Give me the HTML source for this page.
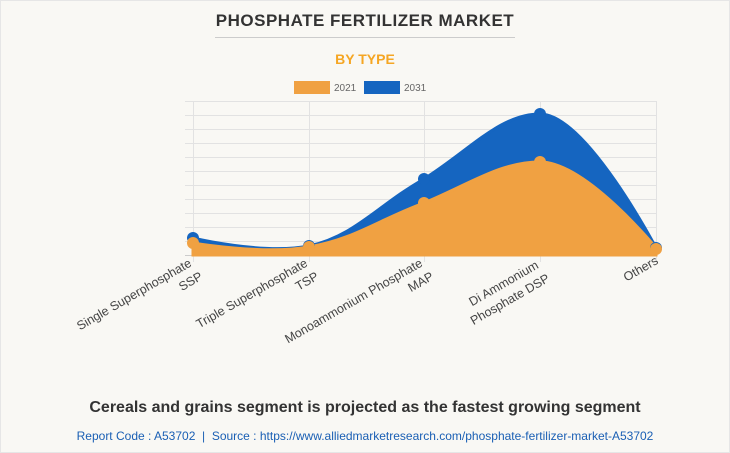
<!DOCTYPE html>
<html><head><style>
body{margin:0;width:730px;height:453px;background:#f9f8f4;font-family:"Liberation Sans",Arial,sans-serif;overflow:hidden;position:relative}
.t{position:absolute;left:0;width:730px;text-align:center}
</style></head><body>
<div style="position:absolute;left:0;top:0;width:728px;height:451px;border:1px solid #e6e6e6"></div>
<div class="t" style="top:11px;font-size:17px;font-weight:bold;color:#333;letter-spacing:0.5px">PHOSPHATE FERTILIZER MARKET</div>
<div style="position:absolute;left:215px;top:37px;width:300px;height:1px;background:#ccc"></div>
<div class="t" style="top:51px;font-size:14px;font-weight:bold;color:#f5a623">BY TYPE</div>
<svg width="730" height="453" style="position:absolute;left:0;top:0" font-family="Liberation Sans, Arial, sans-serif">
<rect x="294" y="81" width="36" height="13" fill="#f0a142"/>
<text x="334" y="91" font-size="10" fill="#666">2021</text>
<rect x="364" y="81" width="36" height="13" fill="#1565c0"/>
<text x="404" y="91" font-size="10" fill="#666">2031</text>
<g stroke="#e2e2e2" stroke-width="1">
<line x1="185" y1="101.5" x2="657" y2="101.5"/><line x1="185" y1="115.5" x2="657" y2="115.5"/>
<line x1="185" y1="129.5" x2="657" y2="129.5"/><line x1="185" y1="143.5" x2="657" y2="143.5"/>
<line x1="185" y1="157.5" x2="657" y2="157.5"/><line x1="185" y1="171.5" x2="657" y2="171.5"/>
<line x1="185" y1="185.5" x2="657" y2="185.5"/><line x1="185" y1="199.5" x2="657" y2="199.5"/>
<line x1="185" y1="213.5" x2="657" y2="213.5"/><line x1="185" y1="227.5" x2="657" y2="227.5"/>
<line x1="185" y1="241.5" x2="657" y2="241.5"/>
<line x1="193.5" y1="101" x2="193.5" y2="262"/><line x1="309.5" y1="101" x2="309.5" y2="262"/>
<line x1="424.5" y1="101" x2="424.5" y2="262"/><line x1="540.5" y1="101" x2="540.5" y2="262"/>
<line x1="656.5" y1="101" x2="656.5" y2="262"/>
</g>
<line x1="185" y1="255.5" x2="657" y2="255.5" stroke="#ccc"/>
<path d="M193,238 C193,238 263,255 309,246 C355,236 378,205 424,179 C470,150 500,114 540,114 C586,114 656,248 656,248 L656,255 L193,255Z" fill="#1565c0" stroke="#1565c0" stroke-width="3"/>
<path d="M193,243 C193,243 263,255 309,247 C355,239 378,220 424,203 C470,184 500,162 540,162 C586,162 656,248 656,248 L656,255 L193,255Z" fill="#f0a142" stroke="#f0a142" stroke-width="3"/>
<g fill="#1565c0"><circle cx="193" cy="238" r="6"/><circle cx="309" cy="246" r="6"/><circle cx="424" cy="179" r="6"/><circle cx="540" cy="114" r="6"/><circle cx="656" cy="248" r="6"/></g>
<g fill="#f0a142"><circle cx="193" cy="243" r="6"/><circle cx="309" cy="247" r="6"/><circle cx="424" cy="203" r="6"/><circle cx="540" cy="162" r="6"/><circle cx="656" cy="249" r="6"/></g>
<g font-size="12.5" fill="#444" text-anchor="end">
<text transform="translate(195,264) rotate(-30)"><tspan x="-3" y="0">Single Superphosphate</tspan><tspan x="0" y="17">SSP</tspan></text>
<text transform="translate(311,264) rotate(-30)"><tspan x="-3" y="0">Triple Superphosphate</tspan><tspan x="0" y="17">TSP</tspan></text>
<text transform="translate(426,264) rotate(-30)"><tspan x="-3" y="0">Monoammonium Phosphate</tspan><tspan x="0" y="17">MAP</tspan></text>
<text transform="translate(542,266) rotate(-30)"><tspan x="-3" y="0">Di Ammonium</tspan><tspan x="0" y="17">Phosphate DSP</tspan></text>
<text transform="translate(659,263) rotate(-30)"><tspan x="0" y="0">Others</tspan></text>
</g>
</svg>
<div class="t" style="top:399px;font-size:16px;font-weight:bold;color:#333">Cereals and grains segment is projected as the fastest growing segment</div>
<div class="t" style="top:429px;font-size:12px;color:#1a5fb4">Report Code : A53702 &nbsp;|&nbsp; Source : https://www.alliedmarketresearch.com/phosphate-fertilizer-market-A53702</div>
</body></html>
